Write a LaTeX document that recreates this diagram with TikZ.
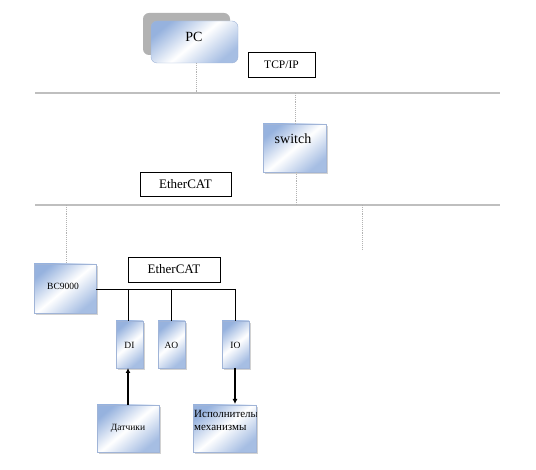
\documentclass[tikz,border=0pt]{standalone}
\usepackage{fontspec}
\setmainfont{Liberation Serif}
\usetikzlibrary{arrows.meta}
\definecolor{boxblue}{RGB}{150,178,222}
\definecolor{boxedge}{RGB}{160,180,215}
\begin{document}
\begin{tikzpicture}[x=1pt,y=-1pt,
  bluebox/.style={draw=boxedge, line width=0.4pt, shading=axis, top color=boxblue, bottom color=boxblue!85, middle color=white, shading angle=40},
  shadowbox/.style={fill=gray!60, draw=none},
  modshadow/.style={fill=gray!35, draw=none},
  labelbox/.style={draw=black, line width=0.6pt, fill=white, minimum height=24pt, inner sep=0pt},
  busline/.style={draw=gray!50, line width=1.8pt},
  dropline/.style={draw=gray!60, line width=0.9pt, densely dotted},
  blkline/.style={draw=black, line width=0.8pt},
  arr/.style={draw=black, line width=1.8pt, -{Latex[length=5pt,width=5pt]}}
]
\useasboundingbox (0,0) rectangle (536,470);

% ---------- PC ----------
\fill[shadowbox, rounded corners=6pt] (143,13) rectangle (230,55);
\shade[bluebox, rounded corners=6pt] (151,21) rectangle (238,63);
\node[font=\fontsize{14}{16}\selectfont] (pc) at (194,37) {PC};
\coordinate (pcb) at (196,63);

% ---------- TCP/IP label ----------
\node[labelbox, minimum width=67pt, minimum height=25pt, font=\fontsize{11.5}{13}\selectfont] (tcp) at (281.5,64.5) {TCP/IP};

% ---------- top bus ----------
\coordinate (b1l) at (35,93);
\coordinate (b1r) at (500,93);
\draw[busline] (b1l) -- (b1r);
\coordinate (pcj) at (196,93);
\draw[dropline] (pcb) -- (pcj);

% ---------- switch ----------
\fill[modshadow] (265,126) rectangle (328,174);
\shade[bluebox] (263,124) rectangle (326,172);
\node[font=\fontsize{14}{16}\selectfont] (sw) at (293,139) {switch};
\coordinate (swt) at (295,124);
\coordinate (swb) at (296,172);
\coordinate (swj1) at (295,93);
\draw[dropline] (swj1) -- (swt);

% ---------- EtherCAT label 1 ----------
\node[labelbox, minimum width=91pt, font=\fontsize{13}{15}\selectfont] (ec1) at (185.5,184) {EtherCAT};

% ---------- second bus ----------
\coordinate (b2l) at (35,205);
\coordinate (b2r) at (500,205);
\draw[busline] (b2l) -- (b2r);
\coordinate (swj2) at (296,205);
\draw[dropline] (swb) -- (swj2);
\coordinate (bcj) at (66,205);
\coordinate (bct) at (66,264);
\draw[dropline] (bcj) -- (bct);
\coordinate (rj) at (362,205);
\coordinate (re) at (362,250);
\draw[dropline] (rj) -- (re);

% ---------- BC9000 ----------
\fill[modshadow] (36,266) rectangle (98,315);
\shade[bluebox] (34,264) rectangle (96,313);
\node[font=\fontsize{9.5}{11}\selectfont] (bc) at (63,286) {BC9000};

% ---------- EtherCAT label 2 ----------
\node[labelbox, minimum width=92pt, minimum height=25pt, font=\fontsize{13}{15}\selectfont] (ec2) at (174,269.5) {EtherCAT};

% ---------- local EtherCAT line ----------
\coordinate (bcr) at (96,289);
\coordinate (e3) at (235,289);
\coordinate (e1) at (128,289);
\coordinate (e2) at (171,289);
\draw[blkline] (bcr) -- (e3);

% ---------- modules ----------
\fill[modshadow] (118,323) rectangle (145,370);
\shade[bluebox] (116,321) rectangle (143,368);
\node[font=\fontsize{9.5}{11}\selectfont] (di) at (129.5,345) {DI};
\fill[modshadow] (160,323) rectangle (187,370);
\shade[bluebox] (158,321) rectangle (185,368);
\node[font=\fontsize{9.5}{11}\selectfont] (ao) at (171.5,345) {AO};
\fill[modshadow] (224,323) rectangle (251,370);
\shade[bluebox] (222,321) rectangle (249,368);
\node[font=\fontsize{9.5}{11}\selectfont] (io) at (235.5,345) {IO};
\coordinate (dit) at (128,321);
\coordinate (aot) at (171,321);
\coordinate (iot) at (235,321);
\draw[blkline] (e1) -- (dit);
\draw[blkline] (e2) -- (aot);
\draw[blkline] (e3) -- (iot);

% ---------- sensors / actuators ----------
\fill[modshadow] (99,407) rectangle (161,454);
\shade[bluebox] (97,405) rectangle (159,452);
\node[font=\fontsize{9.5}{11}\selectfont] (sens) at (128,428) {Датчики};
\fill[modshadow] (195,407) rectangle (258,454);
\shade[bluebox] (193,405) rectangle (256,452);
\begin{scope}
\clip (193,405) rectangle (256,452);
\node[font=\fontsize{11}{12}\selectfont, anchor=west, inner sep=0pt] (act1) at (194,414) {Исполнительные};
\node[font=\fontsize{11}{12}\selectfont, anchor=west, inner sep=0pt] (act2) at (194,428) {механизмы};
\end{scope}
\coordinate (dib) at (128,368);
\coordinate (sent) at (128,405);
\coordinate (iob) at (235,368);
\coordinate (actt) at (235,404);
\draw[arr] (sent) -- (dib);
\draw[arr] (iob) -- (actt);
\end{tikzpicture}
\end{document}
